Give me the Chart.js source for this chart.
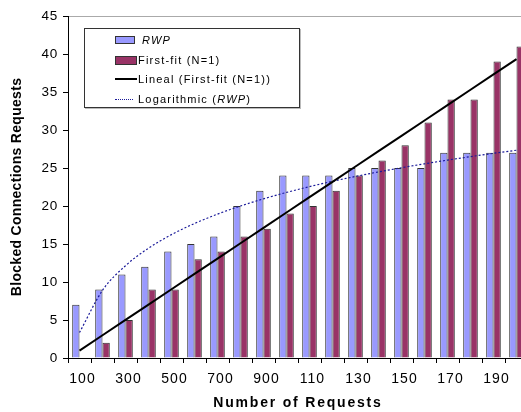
<!DOCTYPE html>
<html>
<head>
<meta charset="utf-8">
<script src="https://cdn.jsdelivr.net/npm/chart.js@4/dist/chart.umd.min.js"></script>
<style>
  html, body { margin: 0; padding: 0; background: #fff; overflow: hidden; width: 521px; height: 412px; }
  #wrap { position: relative; width: 540px; height: 412px; }
  #legend {
    position: absolute; left: 84px; top: 28px; width: 214px; height: 78px;
    border: 1px solid #333; box-shadow: 1px 1px 0 #bbb; background: #fff;
    font-family: "Liberation Sans", Arial, sans-serif; font-size: 11px; letter-spacing: 1.2px; color: #000;
  }
  .sw { position: absolute; }
  .txt { position: absolute; white-space: nowrap; line-height: 16px; }
  i { font-style: italic; }
</style>
</head>
<body>
<div id="wrap">
  <canvas id="c" width="540" height="412"></canvas>
  <div id="legend"></div>
</div>
<script>
// ---- data ----
const categories = ['100','200','300','400','500','600','700','800','900','1000',
                    '1100','1200','1300','1400','1500','1600','1700','1800','1900','2000'];
const tickLabels = ['100','300','500','700','900','110','130','150','170','190'];
const rwp       = [7, 9, 11, 12, 14, 15, 16, 20, 22, 24, 24, 24, 25, 25, 25, 25, 27, 27, 27, 27];
const firstFit  = [0, 2, 5, 9, 9, 13, 14, 16, 17, 19, 20, 22, 24, 26, 28, 31, 34, 34, 39, 41];
const yTicks    = [0, 5, 10, 15, 20, 25, 30, 35, 40, 45];

// ---- trendlines (least squares, as the spreadsheet computes them) ----
function linearTrend(ys) {
  const n = ys.length; let sx=0, sy=0, sxx=0, sxy=0;
  ys.forEach((y, i) => { const x = i + 1; sx += x; sy += y; sxx += x*x; sxy += x*y; });
  const b = (n*sxy - sx*sy) / (n*sxx - sx*sx); const a = (sy - b*sx) / n;
  return ys.map((_, i) => a + b*(i + 1));
}
function logTrend(ys) {
  const n = ys.length; let sx=0, sy=0, sxx=0, sxy=0;
  ys.forEach((y, i) => { const x = Math.log(i + 1); sx += x; sy += y; sxx += x*x; sxy += x*y; });
  const b = (n*sxy - sx*sy) / (n*sxx - sx*sx); const a = (sy - b*sx) / n;
  return ys.map((_, i) => a + b*Math.log(i + 1));
}
const linFF = linearTrend(firstFit);
const logRWP = logTrend(rwp);

const FONT = '"Liberation Sans", Arial, sans-serif';
const spacing = { x: { ticks: '1px', title: '1.8px' }, y: { ticks: '0.8px', title: '0.3px' } };

const spacingPlugin = {
  id: 'spacing',
  afterLayout(chart) {
    for (const id of Object.keys(chart.scales)) {
      const s = chart.scales[id];
      if (s._spWrapped || !spacing[id]) continue;
      s._spWrapped = true;
      const oL = s.drawLabels, oT = s.drawTitle;
      s.drawLabels = function (a) { const c = this.ctx; c.letterSpacing = spacing[id].ticks; oL.call(this, a); c.letterSpacing = '0px'; };
      s.drawTitle = function (a) { const c = this.ctx; c.letterSpacing = spacing[id].title; oT.call(this, a); c.letterSpacing = '0px'; };
    }
  }
};

new Chart(document.getElementById('c'), {
  type: 'bar',
  data: {
    labels: categories,
    datasets: [
      { type: 'line', label: 'Lineal (First-fit (N=1))', data: linFF, borderColor: '#000', borderWidth: 2,
        pointRadius: 0, fill: false, order: 0 },
      { type: 'line', label: 'Logarithmic (RWP)', data: logRWP, borderColor: '#1a1a99', borderWidth: 1.2,
        borderDash: [2, 2], pointRadius: 0, fill: false, cubicInterpolationMode: 'monotone', order: 0 },
      { label: 'RWP', data: rwp, backgroundColor: '#9999FF', borderColor: '#333', borderWidth: 1,
        categoryPercentage: 0.635, barPercentage: 1, order: 1 },
      { label: 'First-fit (N=1)', data: firstFit, backgroundColor: '#993366', borderColor: '#333', borderWidth: 1,
        categoryPercentage: 0.635, barPercentage: 1, order: 1 }
    ]
  },
  options: {
    responsive: false,
    animation: false,
    layout: { padding: { top: 16, right: 12, left: 0, bottom: 0 } },
    plugins: { legend: { display: false }, tooltip: { enabled: false } },
    scales: {
      x: {
        grid: { display: true, drawOnChartArea: false, color: '#000', tickLength: 5, offset: true },
        border: { display: true, color: '#000', width: 1 },
        ticks: {
          autoSkip: false, maxRotation: 0, minRotation: 0, padding: 8, labelOffset: 3, color: '#000',
          font: { family: FONT, size: 14 },
          callback: (v, i) => (i % 2 === 0 ? tickLabels[i / 2] : '')
        },
        title: { display: true, text: 'Number of Requests', color: '#000',
                 font: { family: FONT, size: 14, weight: 'bold' }, padding: { top: 0, bottom: 0 } },
        afterFit: s => { s.height = 54; }
      },
      y: {
        min: 0, max: 45,
        afterBuildTicks: s => { s.ticks = yTicks.map(v => ({ value: v })); },
        grid: { display: true, drawOnChartArea: true, tickLength: 5,
                color: c => (c.tick && c.tick.value === 45 ? '#aaa' : 'rgba(0,0,0,0)'),
                tickColor: '#000' },
        border: { display: true, color: '#000', width: 1 },
        ticks: { padding: 5, color: '#000', font: { family: FONT, size: 13.5 } },
        title: { display: true, text: 'Blocked Connections Requests', color: '#000',
                 font: { family: FONT, size: 14, weight: 'bold' }, padding: { top: 9, bottom: 0 } },
        afterFit: s => { s.width = 68; }
      }
    }
  },
  plugins: [spacingPlugin]
});

// ---- legend (HTML, built from the series) ----
const legendItems = [
  { html: '<i>RWP</i>', sw: '<div class="sw" style="left:30px;top:-4px;width:18px;height:6px;background:#9999FF;border:1px solid #333"></div>', tx: 57 },
  { html: 'First-fit (N=1)', sw: '<div class="sw" style="left:30px;top:-4px;width:20px;height:7px;background:#993366;border:1px solid #333"></div>', tx: 53 },
  { html: 'Lineal (First-fit (N=1))', sw: '<div class="sw" style="left:30px;top:-1px;width:22px;height:2px;background:#000"></div>', tx: 53 },
  { html: 'Logarithmic (<i>RWP</i>)', sw: '<div class="sw" style="left:30px;top:0px;width:18px;height:0;border-top:1px dotted #1a1a99"></div>', tx: 53 }
];
const leg = document.getElementById('legend');
legendItems.forEach((it, k) => {
  const cy = 11 + k * 19.5;
  const d = document.createElement('div');
  d.style.cssText = `position:absolute;left:0;top:${cy}px;width:100%;height:0`;
  d.innerHTML = it.sw + `<div class="txt" style="left:${it.tx}px;top:-8px">${it.html}</div>`;
  leg.appendChild(d);
});
</script>
</body>
</html>
